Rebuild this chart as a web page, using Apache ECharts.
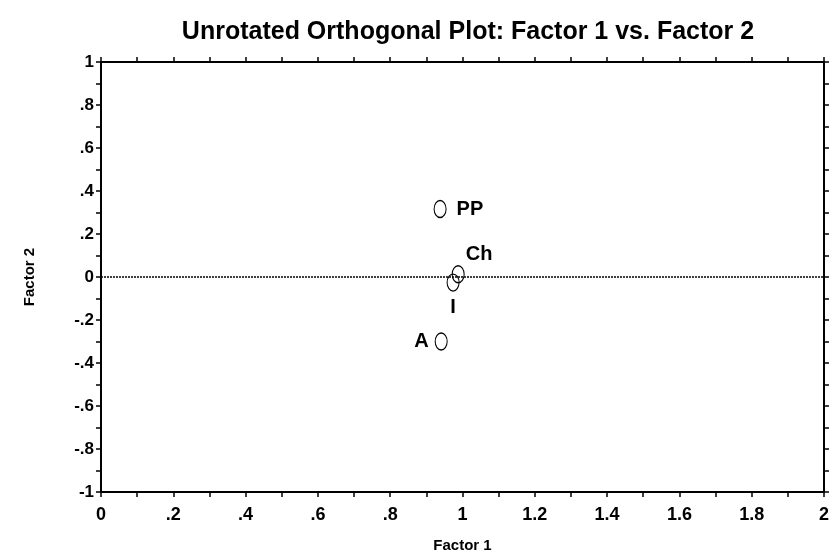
<!DOCTYPE html>
<html>
<head>
<meta charset="utf-8">
<script src="https://cdn.jsdelivr.net/npm/echarts@6/dist/echarts.min.js"></script>
<style>
  html, body { margin: 0; padding: 0; background: #fff; }
  #chart { width: 832px; height: 559px; }
</style>
</head>
<body>
<div id="chart"></div>
<script>
// variables plotted on the two unrotated factors
var names = ['PP', 'Ch', 'I', 'A'];
var factor1 = [0.938, 0.988, 0.974, 0.941];
var factor2 = [0.316, 0.013, -0.026, -0.30];
var labelSide = ['right', 'top', 'bottom', 'left'];

var FONT = '"Liberation Sans", Arial, sans-serif';

function fmt(v) {
  var s = String(Math.round(v * 10) / 10);
  return s.replace(/^(-?)0\./, '$1.');
}

var points = names.map(function (n, i) {
  var side = labelSide[i];
  return {
    name: n,
    value: [factor1[i], factor2[i]],
    label: {
      show: true,
      position: side,
      formatter: n,
      color: '#000',
      opacity: 1,
      fontFamily: FONT, fontWeight: 'bold', fontSize: 20,
      distance: side == 'top' ? 1 : (side == 'right' ? 10 : 6),
      offset: side == 'top' ? [21, 0] : [0, 0]
    }
  };
});

var baseAxis = {
  axisLine: { onZero: false, lineStyle: { color: '#000', width: 2 } },
  axisTick: { show: true, inside: false, length: 5, lineStyle: { color: '#000', width: 1.5 } },
  minorTick: { show: true, splitNumber: 2, length: 5, lineStyle: { color: '#000', width: 1.5 } },
  splitLine: { show: false }
};

var chart = echarts.init(document.getElementById('chart'));
chart.setOption({
  animation: false,
  title: {
    text: 'Unrotated Orthogonal Plot: Factor 1 vs. Factor 2',
    left: 463, top: 15, textAlign: 'center',
    textStyle: { fontFamily: FONT, fontWeight: 'bold', fontSize: 25, color: '#000' }
  },
  grid: { left: 101, right: 6, top: 62, bottom: 67 },
  xAxis: [
    Object.assign({}, baseAxis, {
      type: 'value', min: 0, max: 2, interval: 0.2, position: 'bottom',
      name: 'Factor 1', nameLocation: 'middle', nameGap: 46,
      nameTextStyle: { fontFamily: FONT, fontWeight: 'bold', fontSize: 15, color: '#000' },
      axisLabel: { formatter: fmt, margin: 14, fontFamily: FONT, fontWeight: 'bold', fontSize: 18, color: '#000' }
    }),
    Object.assign({}, baseAxis, {
      type: 'value', min: 0, max: 2, interval: 0.2, position: 'top',
      axisLabel: { show: false }
    })
  ],
  yAxis: [
    Object.assign({}, baseAxis, {
      type: 'value', min: -1, max: 1, interval: 0.2, position: 'left',
      name: 'Factor 2', nameLocation: 'middle', nameGap: 64, nameRotate: 90,
      nameTextStyle: { fontFamily: FONT, fontWeight: 'bold', fontSize: 15, color: '#000' },
      axisLabel: { formatter: fmt, margin: 7, fontFamily: FONT, fontWeight: 'bold', fontSize: 17, color: '#000' }
    }),
    Object.assign({}, baseAxis, {
      type: 'value', min: -1, max: 1, interval: 0.2, position: 'right',
      axisLabel: { show: false }
    })
  ],
  series: [{
    type: 'scatter',
    data: points,
    symbol: 'circle',
    symbolSize: [12, 17],
    itemStyle: { color: 'rgba(255,255,255,0)', borderColor: '#000', borderWidth: 1.2, opacity: 1 },
    label: { fontFamily: FONT, fontWeight: 'bold', fontSize: 20, color: '#000' },
    markLine: {
      silent: true,
      symbol: 'none',
      label: { show: false },
      lineStyle: { color: '#000', type: [2, 1], width: 1.5 },
      data: [{ yAxis: 0 }]
    }
  }]
});
</script>
</body>
</html>
